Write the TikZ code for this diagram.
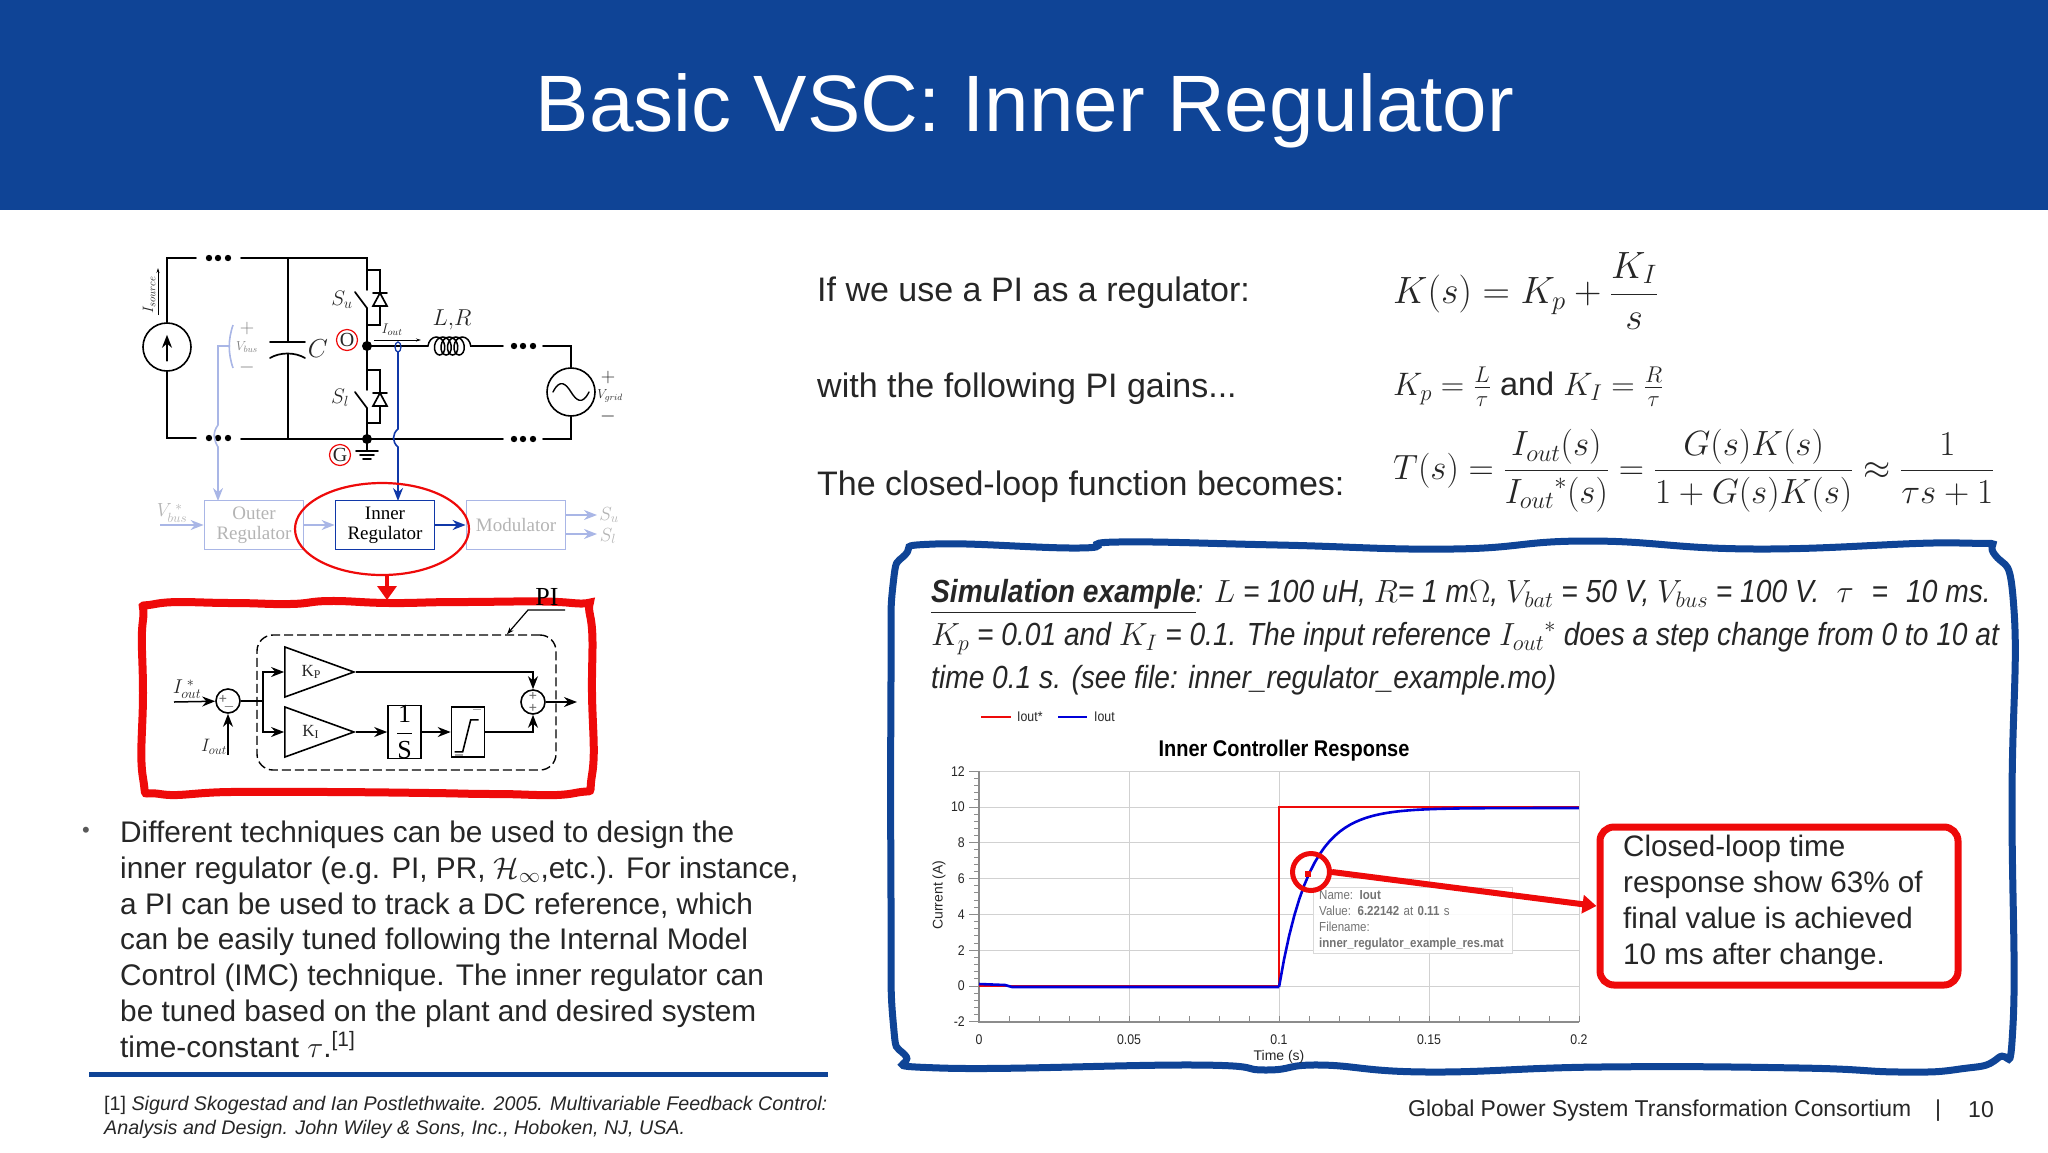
\documentclass[tikz,border=0pt]{standalone}
\usepackage{fix-cm}
\usepackage{amsmath}
\usepackage{fontspec}
\setmainfont{Liberation Sans}
\newfontfamily\dgmfont{Liberation Serif}
\newfontfamily\simfont[FakeStretch=0.88]{Liberation Sans}
\usetikzlibrary{arrows.meta,shapes.geometric,decorations.pathmorphing}
\newcommand{\fsz}[2]{\fontsize{#1}{#2}\selectfont}
\definecolor{hdrblue}{HTML}{0F4496}
\definecolor{ltblue}{HTML}{A9B6E6}
\definecolor{ltgray}{HTML}{B4B4B4}
\definecolor{sigblue}{HTML}{1038A8}
\definecolor{markred}{HTML}{EE0A0A}
\tikzset{
  wire/.style={line width=1.7pt,line cap=round},
  sigwire/.style={line width=1.5pt},
  tip/.style={-{Stealth[length=13pt,width=10pt]}},
  lightwire/.style={ltblue,line width=1.6pt},
  bodytext/.style={inner sep=0pt,anchor=west,font=\fsz{34}{40}},
  lbl/.style={inner sep=0pt},
  ctrlblock/.style={draw=ltblue,line width=1.8pt,minimum width=99pt,minimum height=49pt,inner sep=0pt,align=center,text=ltgray,font=\dgmfont\fsz{19}{20}},
  sumnode/.style={circle,draw,line width=1.6pt,minimum size=24pt,inner sep=0pt},
  gainnode/.style={isosceles triangle,isosceles triangle stretches,draw,line width=1.6pt,minimum width=50pt,minimum height=69pt,inner sep=0pt,anchor=apex,font=\dgmfont\fsz{17}{20}},
  opbox/.style={draw,line width=1.6pt,minimum width=33pt,minimum height=50pt,inner sep=0pt},
  smalllabel/.style={inner sep=0pt,font=\fsz{14}{16}},
  gridline/.style={black!18,line width=1pt},
  axisline/.style={black!45,line width=1pt}
}
\begin{document}
\begin{tikzpicture}[x=1pt,y=-1pt,every node/.style={text=black!85}]
  \useasboundingbox (0,0) rectangle (2048,1152);
  \fill[hdrblue] (0,0) rectangle (2048,210);
  \node[lbl,text=white,font=\fsz{80}{90}] (title) at (1025,111) {Basic VSC: Inner Regulator};

  \node[sumnode,minimum size=48pt] (src) at (167,347) {};
  \node[sumnode,minimum size=48pt] (acsrc) at (571,392) {};
  \coordinate (topL) at (167,258);
  \coordinate (botL) at (167,438);
  \coordinate (nodeO) at (367,346);
  \coordinate (nodeG) at (367,439);
  \draw[wire] (src.north) -- (topL) -- (196,258);
  \draw[wire] (241,258) -- (367,258) -- (367,290);
  \draw[wire] (src.south) -- (botL) -- (196,438);
  \draw[wire] (241,439) -- (503,439);
  \draw[wire] (543,439) -- (571,439) -- (acsrc.south);
  \draw[wire] (acsrc.north) -- (571,346) -- (543,346);
  \draw[wire] (nodeO) -- (428,346);
  \draw[wire] (472,346) -- (503,346);
  \draw[wire] (367,308) -- (nodeO) -- (367,390);
  \draw[wire] (367,408) -- (nodeG);
  \draw[wire,line width=1.5pt,decorate,decoration={coil,aspect=.75,segment length=6.5pt,amplitude=9pt}] (428,346) -- (472,346);
  \foreach \d in {0,100} {
    \draw[wire] (367,270+\d) -- (380,270+\d) -- (380,325+\d-\d/50) -- (367,325+\d-\d/50);
    \draw[wire] (355,292+\d) -- (367,308+\d);
    \draw[wire,fill=white] (373,306+\d) -- (387,306+\d) -- (380,293+\d) -- cycle;
    \draw[wire] (373,293+\d) -- (387,293+\d);
  }
  \foreach \x in {209,218,228} \fill (\x,258) circle (3.2);
  \foreach \x in {209,218,228} \fill (\x,438) circle (3.2);
  \foreach \x in {514,523,533} \fill (\x,346) circle (3.2);
  \foreach \x in {514,523,533} \fill (\x,439) circle (3.2);
  \fill (nodeO) circle (5);
  \fill (nodeG) circle (5);
  \draw[wire] (288,258) -- (288,342);
  \draw[wire] (270,342) -- (305,342);
  \draw[wire] (270,358) .. controls (280,352) and (295,352) .. (305,358);
  \draw[wire] (288,354) -- (288,438);
  \draw[wire] (nodeG) -- (367,451);
  \draw[wire] (356,451) -- (378,451);
  \draw[wire] (360,455) -- (374,455);
  \draw[wire] (363,459) -- (371,459);
  \draw[tip,wire] (src.south) ++(0,-11) -- ++(0,-26);
  \draw[wire,line width=1.4pt] (553,392) .. controls (560,378) and (566,384) .. (571,392) .. controls (576,400) and (582,406) .. (589,392);
  \draw[line width=.8pt,-{Stealth[length=5pt,width=3pt]}] (158,315) -- (158,268);
  \draw[line width=.8pt,-{Stealth[length=5pt,width=3pt]}] (374,340) -- (421,340);
  \node[lbl,rotate=90,font=\fsz{15}{16}] (isrc) at (149,295) {$I_{source}$};
  \node[lbl,font=\fsz{23}{24}] (lr) at (452,320) {$L{,}R$};
  \node[lbl,font=\fsz{14}{16}] (iout) at (392,330) {$I_{out}$};
  \node[lbl,font=\fsz{26}{28}] (capC) at (318,349) {$C$};
  \node[lbl,font=\fsz{21}{24}] (su) at (342,300) {$S_u$};
  \node[lbl,font=\fsz{21}{24}] (sl) at (340,398) {$S_l$};
  \node[lbl,font=\fsz{20}{24}] (gp) at (608,377) {$+$};
  \node[lbl,font=\fsz{13}{16}] (vg) at (610,396) {$V_{grid}$};
  \node[lbl,font=\fsz{20}{24}] (gm) at (608,416) {$-$};
  \node[circle,draw=markred,line width=1.2pt,minimum size=21pt,inner sep=0pt,font=\dgmfont\fsz{20}{22}] (markO) at (347,340) {O};
  \node[circle,draw=markred,line width=1.2pt,minimum size=21pt,inner sep=0pt,font=\dgmfont\fsz{20}{22}] (markG) at (340,455) {G};

  \node[ctrlblock] (outer) at (254,525) {Outer\\Regulator};
  \node[ctrlblock,draw=sigblue,text=black] (inner) at (385,525) {Inner\\Regulator};
  \node[ctrlblock] (mod) at (516,525) {Modulator};
  \coordinate (outerIn) at (218,501);
  \coordinate (innerIn) at (398,501);
  \coordinate (vbusTap) at (230,346);
  \coordinate (vbusRef) at (160,525);
  \coordinate (suOut) at (597,515);
  \coordinate (slOut) at (597,534);
  \draw[lightwire] (233,325) .. controls (228,340) and (228,353) .. (233,368);
  \draw[lightwire,tip] (vbusTap) -- (218,346) -- (218,425) .. controls (212,433) and (214,440) .. (218,447) -- (outerIn);
  \draw[sigblue,line width=1.6pt,tip] (398,352) -- (398,429) .. controls (392,434) and (392,442) .. (398,447) -- (innerIn);
  \draw[sigblue,line width=1.3pt] (398,347) ellipse (3 and 5);
  \draw[lightwire,tip] (vbusRef) -- (outer.west);
  \draw[lightwire,tip] (outer.east) -- (inner.west);
  \draw[sigblue,line width=1.8pt,tip] (inner.east) -- (mod.west);
  \draw[lightwire,tip] (566,515) -- (suOut);
  \draw[lightwire,tip] (566,534) -- (slOut);
  \node[lbl,text=ltgray,font=\fsz{19}{20}] (vbref) at (172,513) {$V_{bus}^{\;*}$};
  \node[lbl,text=black!50,font=\fsz{20}{24}] (vbp) at (247,328) {$+$};
  \node[lbl,text=black!50,font=\fsz{13}{16}] (vbv) at (247,347) {$V_{bus}$};
  \node[lbl,text=black!50,font=\fsz{20}{24}] (vbm) at (247,367) {$-$};
  \node[lbl,text=ltgray,font=\fsz{19}{20}] (suL) at (609,515) {$S_u$};
  \node[lbl,text=ltgray,font=\fsz{19}{20}] (slL) at (608,536) {$S_l$};
  \node[ellipse,draw=markred,line width=2.2pt,minimum width=174pt,minimum height=92pt,inner sep=0pt] (ring) at (382,529) {};
  \coordinate (boxTop) at (387,600);
  \draw[markred,line width=3.4pt,-{Triangle[length=14pt,width=19pt]}] (ring.south -| boxTop) -- (boxTop);

  \draw[markred,line width=8pt] plot[smooth cycle,tension=.8] coordinates {(155,604) (230,603) (290,604) (330,601) (390,603) (463,602) (572,603) (590,615) (592,693) (592,775) (575,793) (497,794) (430,793) (330,792) (230,792) (160,794) (143,778) (143,693) (143,620)};
  \node[draw,dashed,dash pattern=on 9pt off 4pt,rounded corners=16pt,line width=1.4pt,minimum width=299pt,minimum height=135pt] (piframe) at (406.5,702.5) {};
  \node[lbl,text=black,font=\dgmfont\fsz{26}{28}] (pilabel) at (547,597) {PI};
  \coordinate (piA) at (565,610);
  \draw[line width=1.2pt,-{Stealth[length=7pt,width=5pt]}] (piA) -- (528,610) -- (piframe.north -| 507,0);
  \node[sumnode] (sumA) at (228,701) {};
  \node[sumnode] (sumB) at (533,702) {};
  \node[smalllabel,text=black!60] (sumAp) at (223,699) {+};
  \node[smalllabel,text=black!80] (sumAm) at (229,707) {$-$};
  \node[smalllabel,text=black!60] (sumBp) at (533,696) {+};
  \node[smalllabel,text=black!60] (sumBq) at (533,708) {+};
  \node[gainnode] (kp) at (356,672) {\hspace*{12pt}K\textsubscript{P}};
  \node[gainnode] (ki) at (356,732) {\hspace*{12pt}K\textsubscript{I}};
  \node[opbox,text=black] (ints) at (404.5,732) {\fsz{26}{28}\dgmfont$\dfrac{\text{1}}{\text{S}}$};
  \node[opbox] (sat) at (468,732) {};
  \draw[line width=1.6pt] (sat.south west) ++(4,-6) -- ++(8,0) -- ++(8,-32) -- ++(8,0);
  \draw[black!35,line width=1.4pt] (sat.south west) ++(4,-3) -- ++(8,0);
  \draw[black!35,line width=1.4pt] (sat.north east) ++(-12,3) -- ++(8,0);
  \coordinate (iref) at (174,702);
  \coordinate (ifb) at (228,755);
  \coordinate (split) at (263,701);
  \coordinate (piout) at (577,702);
  \draw[sigwire,tip] (iref) -- (sumA);
  \draw[sigwire,tip] (ifb) -- (sumA.south);
  \draw[sigwire] (sumA) -- (split);
  \draw[sigwire,tip] (split) |- (kp.west);
  \draw[sigwire,tip] (split) |- (ki.west);
  \draw[sigwire,tip] (kp.apex) -| (sumB.north);
  \draw[sigwire,tip] (ki.apex) -- (ints.west);
  \draw[sigwire,tip] (ints.east) -- (sat.west);
  \draw[sigwire,tip] (sat.east) -| (sumB.south);
  \draw[sigwire,tip] (sumB.east) -- (piout);
  \node[lbl,font=\fsz{20}{22}] (irefL) at (187,689) {$I_{out}^{\;*}$};
  \node[lbl,font=\fsz{18}{22}] (ifbL) at (214,747) {$I_{out}$};

  \node[lbl,anchor=north west,align=left,font=\fsz{29.8}{35.7}] (bullets) at (120,821) {Different techniques can be used to design the\\inner regulator (e.g. PI, PR, $\mathcal{H}_\infty$,etc.). For instance,\\a PI can be used to track a DC reference, which\\can be easily tuned following the Internal Model\\Control (IMC) technique. The inner regulator can\\be tuned based on the plant and desired system\\time-constant $\tau$.\textsuperscript{[1]}};
  \node[lbl,text=black!65,font=\fsz{22}{26}] (dot) at (86,832) {\textbullet};
  \draw[hdrblue,line width=5pt] (89,1074) -- (828,1074);
  \node[lbl,anchor=north west,align=left,font=\fsz{19.7}{24}] (refnote) at (104,1096) {[1] \textit{Sigurd Skogestad and Ian Postlethwaite. 2005. Multivariable Feedback Control:}\\\textit{Analysis and Design. John Wiley \& Sons, Inc., Hoboken, NJ, USA.}};
  \node[lbl,anchor=west,font=\fsz{22.9}{26}] (footer) at (1408,1111) {Global Power System Transformation Consortium};
  \node[lbl,font=\fsz{23}{26}] (footbar) at (1938,1111) {|};
  \node[lbl,font=\fsz{23}{26}] (pagenum) at (1981,1110) {10};

  \node[bodytext] (lineA) at (817,293) {If we use a PI as a regulator:};
  \node[bodytext] (lineB) at (817,389) {with the following PI gains...};
  \node[bodytext] (lineC) at (817,487) {The closed-loop function becomes:};
  \node[bodytext,font=\fsz{38}{44}] (eqA) at (1393,291) {$K(s)=K_p+\dfrac{K_I}{s}$};
  \node[bodytext,font=\fsz{32.5}{40}] (eqB) at (1393,387) {$K_p=\frac{L}{\tau}$ and $K_I=\frac{R}{\tau}$};
  \node[bodytext,font=\fsz{35}{42}] (eqC) at (1393,471) {$T(s)=\dfrac{I_{out}(s)}{{I_{out}}^{*}(s)}=\dfrac{G(s)K(s)}{1+G(s)K(s)}\approx\dfrac{1}{\tau s+1}$};

  \draw[hdrblue,line width=7pt] plot[smooth cycle,tension=.8] coordinates {(935,544) (1079,548) (1118,542) (1278,545) (1453,549) (1588,541) (1755,549) (1960,543) (1995,555) (2014,610) (2012,800) (2013,1025) (1998,1058) (1960,1069) (1900,1072) (1800,1068) (1600,1067) (1427,1072) (1320,1065) (1266,1070) (1195,1065) (940,1068) (905,1055) (893,1020) (891,900) (891,680) (893,585) (905,555)};
  \node[lbl,anchor=north west,align=left,font=\simfont\fsz{32}{43}\itshape] (simtext) at (931,579) {\underline{\textbf{Simulation example}}: $L$ = 100 uH, $R$= 1 m$\Omega$, $V_{bat}$ = 50 V, $V_{bus}$ = 100 V.\hspace{17pt}$\tau$\hspace{18pt}=\hspace{18pt}10 ms.\\$K_p$ = 0.01 and $K_I$ = 0.1. The input reference ${I_{out}}^{*}$ does a step change from 0 to 10 at\\time 0.1 s. (see file: inner\_regulator\_example.mo)};

  \draw[markred,line width=1.5pt] (981,717) -- (1011,717);
  \draw[blue!85!black,line width=1.5pt] (1058,717) -- (1087,717);
  \node[lbl,anchor=west,font=\simfont\fsz{14}{16}] (legA) at (1017,717) {Iout*};
  \node[lbl,anchor=west,font=\simfont\fsz{14}{16}] (legB) at (1094,717) {Iout};
  \node[lbl,text=black,font=\simfont\bfseries\fsz{22.7}{24}] (plottitle) at (1284,751) {Inner Controller Response};
  \node[lbl,font=\fsz{14}{16}] (xname) at (1279,1057) {Time (s)};
  \node[lbl,rotate=90,font=\fsz{14}{16}] (yname) at (939,895) {Current (A)};
  \foreach \v in {-2,0,...,12} {
    \draw[gridline] (979,{986-17.9*\v}) -- (1579,{986-17.9*\v});
    \draw[axisline] (969,{986-17.9*\v}) -- (979,{986-17.9*\v});
    \node[lbl,anchor=east,font=\simfont\fsz{14}{16}] (ylab\v) at (965,{986-17.9*\v}) {\v};
  }
  \foreach \v in {-2,-1.6,...,12} \draw[axisline] (974,{986-17.9*\v}) -- (979,{986-17.9*\v});
  \foreach \t/\lab in {0/0,1/0.05,2/0.1,3/0.15,4/0.2} {
    \draw[gridline] ({979+150*\t},771) -- ({979+150*\t},1022);
    \node[lbl,font=\simfont\fsz{14}{16}] (xlab\t) at ({979+150*\t},1040) {\lab};
  }
  \foreach \m in {0,...,20} \draw[axisline] ({979+30*\m},1022) -- ({979+30*\m},1016);
  \draw[axisline,line width=1.5pt] (979,771) -- (979,1022) -- (1579,1022);
  \draw[markred,line width=1.5pt] (979,986) -- (1279,986) -- (1279,807) -- (1579,807);
  \draw[blue!85!black,line width=2.6pt] (979,984) -- (1005,985) -- (1012,987) -- (1279,987);
  \draw[blue!85!black,line width=2.6pt] plot[domain=0:10,samples=60] ({1279+30*\x},{987-179*(1-exp(-\x))});
  \node[draw=black!15,fill=white,fill opacity=.9,text opacity=1,text=black!55,anchor=north west,align=left,inner sep=0pt,inner ysep=3pt,text width=199pt,font=\simfont\fsz{13.1}{16}] (tooltip) at (1313,887) {\hspace*{6pt}Name: \textbf{Iout}\\\hspace*{6pt}Value: \textbf{6.22142} at \textbf{0.11} s\\\hspace*{6pt}Filename:\\\hspace*{6pt}\textbf{inner\_regulator\_example\_res.mat}};

  \node[draw=markred,line width=7pt,rounded corners=14pt,minimum width=358pt,minimum height=158pt,inner sep=0pt] (callout) at (1779,906) {};
  \node[lbl,anchor=north west,align=left,font=\fsz{29.6}{36}] (calloutText) at (1623,835) {Closed-loop time\\response show 63\% of\\final value is achieved\\10 ms after change.};
  \node[circle,draw=markred,line width=5pt,minimum size=37pt,inner sep=0pt] (spot) at (1311,872) {};
  \fill[markred] (1305,871) rectangle (1311,877);
  \draw[markred,line width=6pt,-{Triangle[length=14pt,width=18pt]}] (spot.east) -- (callout.west);
\end{tikzpicture}
\end{document}
